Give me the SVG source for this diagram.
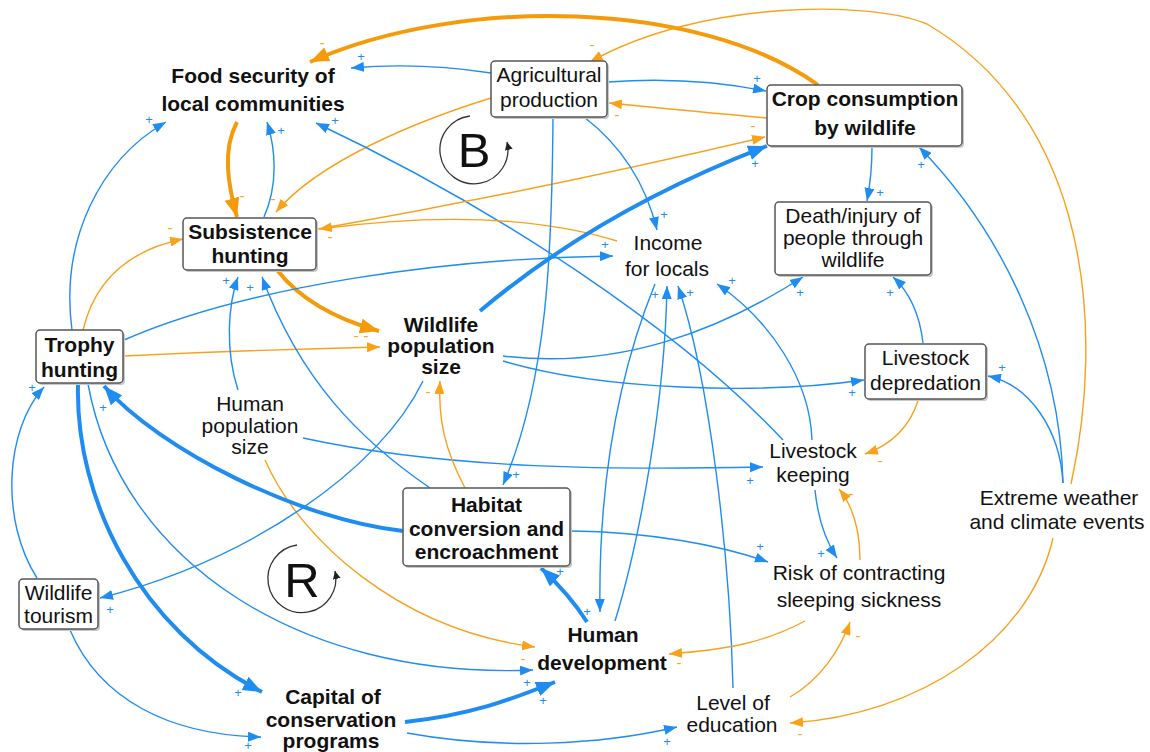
<svg xmlns="http://www.w3.org/2000/svg" width="1150" height="752" viewBox="0 0 1150 752">
  <style>
    .bg { fill: #ffffff; }
    .box { fill: #ffffff; stroke: #555555; stroke-width: 1.5; }
    .shadow { fill: #c8c8c8; }
    .lbl { font-family: "Liberation Sans", Arial, sans-serif; font-size: 21px; fill: #111111; text-anchor: middle; }
    .bold { font-weight: bold; }
    .b { fill: none; stroke: #1E8CF0; stroke-width: 1.4; marker-end: url(#ab); }
    .bt { fill: none; stroke: #1E8CF0; stroke-width: 4; marker-end: url(#abt); }
    .o { fill: none; stroke: #F9A11B; stroke-width: 1.4; marker-end: url(#ao); }
    .ot { fill: none; stroke: #F59B0B; stroke-width: 4; marker-end: url(#aot); }
    .pp { font-family: "Liberation Sans", Arial, sans-serif; font-size: 13px; fill: #1E8CF0; text-anchor: middle; }
    .mm { font-family: "Liberation Sans", Arial, sans-serif; font-size: 15px; fill: #F9A11B; text-anchor: middle; }
    .loop { fill: none; stroke: #333333; stroke-width: 1.3; marker-end: url(#ak); }
    .loopTxt { font-family: "Liberation Sans", Arial, sans-serif; font-size: 49px; fill: #111111; text-anchor: middle; }
  </style>
  <defs>
    <marker id="ab" markerUnits="userSpaceOnUse" markerWidth="14" markerHeight="10" refX="13" refY="5" orient="auto">
      <path d="M0,0 L13,5 L0,10 z" fill="#1E8CF0"/>
    </marker>
    <marker id="abt" markerUnits="userSpaceOnUse" markerWidth="20" markerHeight="15" refX="19" refY="7.5" orient="auto">
      <path d="M0,0 L19,7.5 L0,15 z" fill="#1E8CF0"/>
    </marker>
    <marker id="ao" markerUnits="userSpaceOnUse" markerWidth="14" markerHeight="10" refX="13" refY="5" orient="auto">
      <path d="M0,0 L13,5 L0,10 z" fill="#F9A11B"/>
    </marker>
    <marker id="aot" markerUnits="userSpaceOnUse" markerWidth="20" markerHeight="15" refX="19" refY="7.5" orient="auto">
      <path d="M0,0 L19,7.5 L0,15 z" fill="#F59B0B"/>
    </marker>
    <marker id="ak" markerUnits="userSpaceOnUse" markerWidth="9" markerHeight="8" refX="8" refY="4" orient="auto">
      <path d="M0,0 L8,4 L0,8 z" fill="#222222"/>
    </marker>
  </defs>

  <rect class="bg" x="0" y="0" width="1150" height="752"/>

  <!-- causal links -->
  <g id="connectors">
    <!-- crop consumption -> food security -->
    <path class="ot" d="M818,85 C700,0 460,-5 310,62"/>
    <!-- agricultural production -> food security -->
    <path class="b" d="M491,73 Q420,62 351,68"/>
    <!-- agricultural production -> crop consumption -->
    <path class="b" d="M608,82 Q690,76 766,91"/>
    <!-- crop consumption -> agricultural production -->
    <path class="o" d="M767,118 Q700,112 609,103"/>
    <!-- extreme weather -> agricultural production -->
    <path class="o" d="M1071,484 C1105,330 1090,120 927,24 C870,0 700,0 590,62"/>
    <!-- agricultural production -> subsistence hunting -->
    <path class="o" d="M491,98 C420,120 320,160 276,212"/>
    <!-- food security <-> subsistence hunting -->
    <path class="ot" d="M237,122 C222,150 228,185 237,217"/>
    <path class="b" d="M264,217 C278,185 276,150 267,122"/>
    <!-- trophy hunting -> food security -->
    <path class="b" d="M72,330 C60,240 100,160 166,122"/>
    <!-- livestock keeping -> food security -->
    <path class="b" d="M783,440 C680,330 500,210 316,123"/>
    <!-- subsistence hunting -> crop consumption -->
    <path class="o" d="M318,229 Q540,190 765,137"/>
    <!-- income -> subsistence hunting -->
    <path class="o" d="M617,241 Q500,205 319,229"/>
    <!-- subsistence hunting -> wildlife population -->
    <path class="ot" d="M277,270 Q310,312 379,331"/>
    <!-- trophy hunting -> wildlife population -->
    <path class="o" d="M124,356 Q250,350 380,347"/>
    <!-- trophy hunting -> subsistence hunting -->
    <path class="o" d="M83,330 C95,280 130,250 183,239"/>
    <!-- trophy hunting -> income -->
    <path class="b" d="M124,340 C250,285 450,258 613,256"/>
    <!-- wildlife population -> crop consumption -->
    <path class="bt" d="M480,311 Q600,210 767,146"/>
    <!-- agricultural production -> income -->
    <path class="b" d="M584,117 Q640,160 657,230"/>
    <!-- agricultural production -> habitat conversion -->
    <path class="b" d="M553,117 C552,250 548,380 503,485"/>
    <!-- crop consumption -> death/injury -->
    <path class="b" d="M872,147 Q872,175 867,201"/>
    <!-- extreme weather -> crop consumption -->
    <path class="b" d="M1063,483 C1060,350 1000,230 919,147"/>
    <!-- wildlife population -> death/injury -->
    <path class="b" d="M503,356 C620,370 720,330 803,277"/>
    <!-- wildlife population -> livestock depredation -->
    <path class="b" d="M503,361 C600,390 760,395 864,380"/>
    <!-- livestock depredation -> death/injury -->
    <path class="b" d="M923,343 Q918,300 893,277"/>
    <!-- extreme weather -> livestock depredation -->
    <path class="b" d="M1063,483 C1060,430 1030,385 988,376"/>
    <!-- livestock depredation -> livestock keeping -->
    <path class="o" d="M918,401 Q905,440 865,454"/>
    <!-- livestock keeping -> income -->
    <path class="b" d="M812,440 C810,380 770,320 717,284"/>
    <!-- human population -> subsistence hunting -->
    <path class="b" d="M238,390 C225,350 228,305 238,277"/>
    <!-- habitat conversion -> subsistence hunting -->
    <path class="b" d="M430,488 C360,440 300,380 262,277"/>
    <!-- human population -> livestock keeping -->
    <path class="b" d="M303,438 C450,470 620,470 763,467"/>
    <!-- human population -> human development -->
    <path class="o" d="M265,460 C300,540 400,630 535,647"/>
    <!-- habitat conversion -> wildlife population -->
    <path class="o" d="M465,488 C445,450 438,420 440,381"/>
    <!-- wildlife population -> wildlife tourism -->
    <path class="b" d="M423,381 C380,470 250,560 100,598"/>
    <!-- habitat conversion -> trophy hunting -->
    <path class="bt" d="M403,531 C300,520 160,450 104,386"/>
    <!-- habitat conversion -> sleeping sickness risk -->
    <path class="b" d="M571,531 C650,532 720,545 768,562"/>
    <!-- human development -> habitat conversion -->
    <path class="bt" d="M587,622 Q570,595 541,568"/>
    <!-- income <-> human development -->
    <path class="b" d="M655,284 C620,370 598,480 600,612"/>
    <path class="b" d="M615,621 C640,540 665,400 667,286"/>
    <!-- level of education -> income -->
    <path class="b" d="M733,688 C730,560 710,380 678,286"/>
    <!-- trophy hunting -> capital of conservation programs -->
    <path class="bt" d="M78,384 C75,500 140,630 262,692"/>
    <!-- trophy hunting -> human development -->
    <path class="b" d="M88,384 C120,560 300,680 533,670"/>
    <!-- wildlife tourism -> trophy hunting -->
    <path class="b" d="M37,578 C0,520 5,430 44,387"/>
    <!-- wildlife tourism -> capital of conservation programs -->
    <path class="b" d="M70,630 C100,700 170,735 261,737"/>
    <!-- capital -> human development -->
    <path class="bt" d="M405,722 C470,715 510,700 555,682"/>
    <!-- capital -> level of education -->
    <path class="b" d="M407,733 C500,750 600,745 677,727"/>
    <!-- sleeping sickness risk -> human development -->
    <path class="o" d="M805,621 C760,645 720,650 669,654"/>
    <!-- level of education -> sleeping sickness risk -->
    <path class="o" d="M790,697 C820,680 840,650 850,622"/>
    <!-- extreme weather -> level of education -->
    <path class="o" d="M1053,538 C1030,640 920,715 790,723"/>
    <!-- livestock keeping <-> sleeping sickness risk -->
    <path class="b" d="M815,490 C818,520 825,540 837,558"/>
    <path class="o" d="M860,560 C860,530 852,505 839,489"/>
  </g>

  <!-- link polarities -->
  <g id="polarities">
    <text class="mm" x="322" y="48">-</text>
    <text class="pp" x="361" y="61">+</text>
    <text class="pp" x="757" y="83">+</text>
    <text class="mm" x="617" y="120">-</text>
    <text class="mm" x="592" y="50">-</text>
    <text class="mm" x="273" y="204">-</text>
    <text class="mm" x="242" y="201">-</text>
    <text class="pp" x="281" y="135">+</text>
    <text class="pp" x="149" y="124">+</text>
    <text class="pp" x="335" y="125">+</text>
    <text class="mm" x="753" y="131">-</text>
    <text class="mm" x="330" y="242">-</text>
    <text class="mm" x="356" y="341">-</text>
    <text class="mm" x="366" y="341">-</text>
    <text class="mm" x="170" y="233">-</text>
    <text class="pp" x="605" y="249">+</text>
    <text class="pp" x="755" y="168">+</text>
    <text class="pp" x="664" y="219">+</text>
    <text class="pp" x="516" y="479">+</text>
    <text class="pp" x="880" y="197">+</text>
    <text class="pp" x="921" y="169">+</text>
    <text class="pp" x="800" y="297">+</text>
    <text class="pp" x="852" y="397">+</text>
    <text class="pp" x="890" y="297">+</text>
    <text class="pp" x="1002" y="372">+</text>
    <text class="mm" x="880" y="466">-</text>
    <text class="pp" x="732" y="285">+</text>
    <text class="pp" x="226" y="285">+</text>
    <text class="pp" x="250" y="292">+</text>
    <text class="pp" x="750" y="485">+</text>
    <text class="mm" x="523" y="664">-</text>
    <text class="mm" x="428" y="397">-</text>
    <text class="pp" x="110" y="614">+</text>
    <text class="pp" x="103" y="412">+</text>
    <text class="pp" x="760" y="551">+</text>
    <text class="pp" x="560" y="576">+</text>
    <text class="pp" x="587" y="616">+</text>
    <text class="pp" x="655" y="299">+</text>
    <text class="pp" x="690" y="297">+</text>
    <text class="pp" x="238" y="697">+</text>
    <text class="pp" x="527" y="687">+</text>
    <text class="pp" x="32" y="392">+</text>
    <text class="pp" x="248" y="750">+</text>
    <text class="pp" x="543" y="705">+</text>
    <text class="pp" x="667" y="746">+</text>
    <text class="mm" x="679" y="668">-</text>
    <text class="mm" x="858" y="641">-</text>
    <text class="mm" x="800" y="739">-</text>
    <text class="pp" x="821" y="558">+</text>
    <text class="mm" x="851" y="499">-</text>
  </g>

  <!-- loop markers -->
  <g id="loop-B">
    <path class="loop" d="M470,116 A34,34 0 1 0 507,142"/>
    <text class="loopTxt" x="474" y="167">B</text>
  </g>
  <g id="loop-R">
    <path class="loop" d="M297,545 A34,34 0 1 0 335,571"/>
    <text class="loopTxt" x="302" y="597">R</text>
  </g>

  <!-- variables -->
  <g id="food-security">
    <text class="lbl bold"><tspan x="253" y="83">Food security of</tspan><tspan x="253" y="111">local communities</tspan></text>
  </g>
  <g id="agricultural-production">
    <rect class="shadow" x="493" y="63" width="116" height="56" rx="4"/>
    <rect class="box" x="491" y="61" width="116" height="56" rx="4"/>
    <text class="lbl"><tspan x="549" y="82">Agricultural</tspan><tspan x="549" y="107">production</tspan></text>
  </g>
  <g id="crop-consumption">
    <rect class="shadow" x="769" y="87" width="195" height="61" rx="4"/>
    <rect class="box" x="767" y="85" width="195" height="61" rx="4"/>
    <text class="lbl bold"><tspan x="865" y="106">Crop consumption</tspan><tspan x="865" y="135">by wildlife</tspan></text>
  </g>
  <g id="subsistence-hunting">
    <rect class="shadow" x="185" y="220" width="133" height="52" rx="4"/>
    <rect class="box" x="183" y="218" width="133" height="52" rx="4"/>
    <text class="lbl bold"><tspan x="250" y="239">Subsistence</tspan><tspan x="250" y="263">hunting</tspan></text>
  </g>
  <g id="income">
    <text class="lbl"><tspan x="668" y="250">Income</tspan><tspan x="667" y="276">for locals</tspan></text>
  </g>
  <g id="death-injury">
    <rect class="shadow" x="777" y="204" width="156" height="73" rx="4"/>
    <rect class="box" x="775" y="202" width="156" height="73" rx="4"/>
    <text class="lbl"><tspan x="853" y="223">Death/injury of</tspan><tspan x="853" y="245">people through</tspan><tspan x="853" y="267">wildlife</tspan></text>
  </g>
  <g id="trophy-hunting">
    <rect class="shadow" x="38" y="332" width="87" height="53" rx="4"/>
    <rect class="box" x="36" y="330" width="87" height="53" rx="4"/>
    <text class="lbl bold"><tspan x="79.5" y="352">Trophy</tspan><tspan x="79.5" y="377">hunting</tspan></text>
  </g>
  <g id="wildlife-population">
    <text class="lbl bold"><tspan x="441" y="332">Wildlife</tspan><tspan x="441" y="353">population</tspan><tspan x="441" y="374">size</tspan></text>
  </g>
  <g id="livestock-depredation">
    <rect class="shadow" x="867" y="346" width="121" height="55" rx="4"/>
    <rect class="box" x="865" y="344" width="121" height="55" rx="4"/>
    <text class="lbl"><tspan x="925.5" y="365">Livestock</tspan><tspan x="925.5" y="390">depredation</tspan></text>
  </g>
  <g id="human-population">
    <text class="lbl"><tspan x="250" y="411">Human</tspan><tspan x="250" y="433">population</tspan><tspan x="250" y="454">size</tspan></text>
  </g>
  <g id="livestock-keeping">
    <text class="lbl"><tspan x="813" y="458">Livestock</tspan><tspan x="813" y="482">keeping</tspan></text>
  </g>
  <g id="habitat-conversion">
    <rect class="shadow" x="405" y="490" width="167" height="78" rx="4"/>
    <rect class="box" x="403" y="488" width="167" height="78" rx="4"/>
    <text class="lbl bold"><tspan x="486.5" y="512">Habitat</tspan><tspan x="486.5" y="536">conversion and</tspan><tspan x="486.5" y="559">encroachment</tspan></text>
  </g>
  <g id="extreme-weather">
    <text class="lbl"><tspan x="1059" y="505">Extreme weather</tspan><tspan x="1057" y="529">and climate events</tspan></text>
  </g>
  <g id="sleeping-sickness">
    <text class="lbl"><tspan x="859" y="580">Risk of contracting</tspan><tspan x="859" y="607">sleeping sickness</tspan></text>
  </g>
  <g id="wildlife-tourism">
    <rect class="shadow" x="21" y="581" width="79" height="50" rx="4"/>
    <rect class="box" x="19" y="579" width="79" height="50" rx="4"/>
    <text class="lbl"><tspan x="58.5" y="600">Wildlife</tspan><tspan x="58.5" y="623">tourism</tspan></text>
  </g>
  <g id="human-development">
    <text class="lbl bold"><tspan x="603" y="642">Human</tspan><tspan x="602" y="670">development</tspan></text>
  </g>
  <g id="capital-conservation">
    <text class="lbl bold"><tspan x="333" y="704">Capital of</tspan><tspan x="331" y="727">conservation</tspan><tspan x="331" y="748">programs</tspan></text>
  </g>
  <g id="level-of-education">
    <text class="lbl"><tspan x="733" y="710">Level of</tspan><tspan x="732" y="732">education</tspan></text>
  </g>
</svg>
